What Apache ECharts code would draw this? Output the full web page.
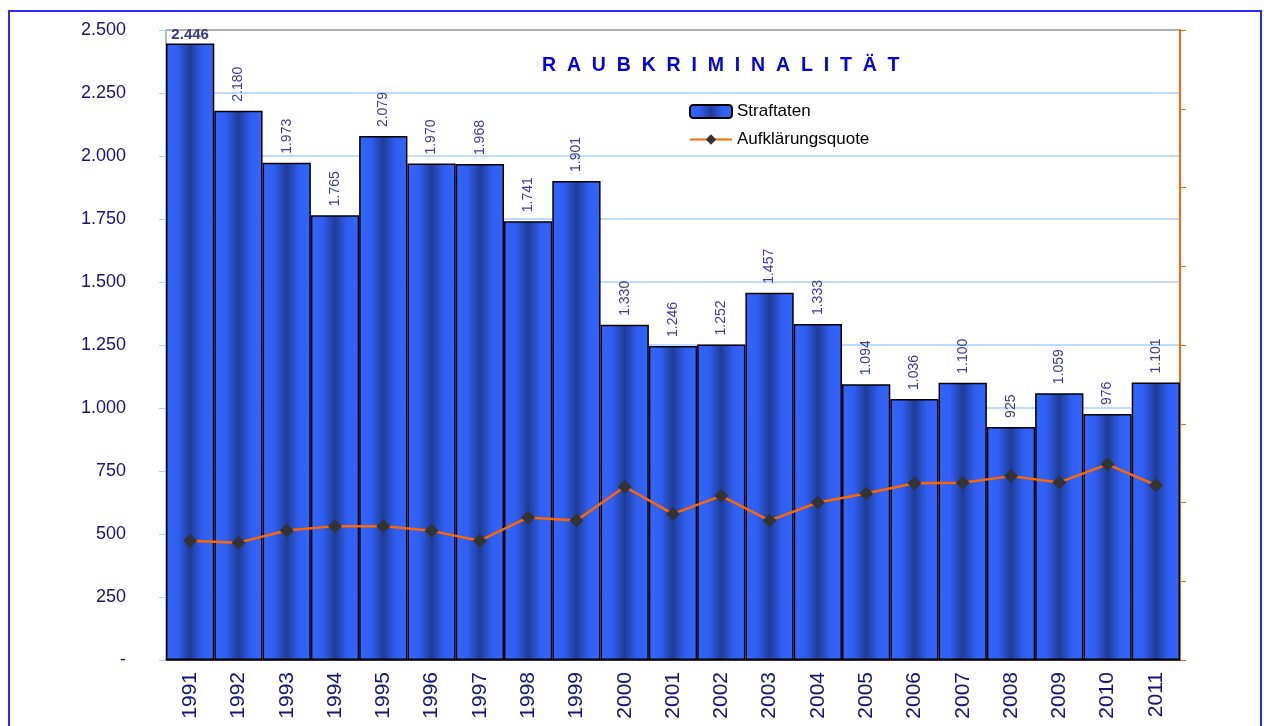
<!DOCTYPE html>
<html>
<head>
<meta charset="utf-8">
<script src="https://cdn.jsdelivr.net/npm/echarts@6/dist/echarts.min.js"></script>
<style>
  html, body { margin: 0; padding: 0; background: #fff; }
  #chart { width: 1264px; height: 726px; }
</style>
</head>
<body>
<div id="chart"></div>
<script>
const years = ['1991', '1992', '1993', '1994', '1995', '1996', '1997', '1998', '1999', '2000',
  '2001', '2002', '2003', '2004', '2005', '2006', '2007', '2008', '2009', '2010', '2011']
const straftaten = [2446, 2180, 1973, 1765, 2079, 1970, 1968, 1741, 1901, 1330,
  1246, 1252, 1457, 1333, 1094, 1036, 1100, 925, 1059, 976, 1101]
// Aufklärungsquote in %, read from the (unlabelled) right axis
const quote = [30.3, 29.8, 32.9, 34.0, 34.0, 32.8, 30.3, 36.2, 35.4, 44.0,
  37.1, 41.7, 35.4, 40.0, 42.3, 44.9, 45.0, 46.7, 45.1, 49.7, 44.4]

const fmt = v => v === 0 ? '-' : String(v).replace(/\B(?=(\d{3})+(?!\d))/g, '.')

const barFill = new echarts.graphic.LinearGradient(0, 0, 1, 0, [
  { offset: 0, color: '#3366ff' },
  { offset: 0.25, color: '#2f5ef0' },
  { offset: 0.5, color: '#1f3c96' },
  { offset: 0.75, color: '#2f5ef0' },
  { offset: 1, color: '#3366ff' }
])

const chart = echarts.init(document.getElementById('chart'))

const option = {
  textStyle: { fontFamily: 'Liberation Sans, Arial, sans-serif' },
  animation: false,
  title: {
    text: 'R  A  U  B  K  R  I  M  I  N  A  L  I  T  Ä  T',
    left: 537,
    top: 51,
    textStyle: { color: '#0000ee', fontSize: 19.5, fontWeight: 'bold' }
  },
  legend: {
    orient: 'vertical',
    left: 684,
    top: 98,
    itemWidth: 42,
    itemHeight: 13,
    itemGap: 11,
    textStyle: { color: '#000', fontSize: 17 },
    data: ['Straftaten', 'Aufklärungsquote']
  },
  graphic: [{
    type: 'rect',
    shape: { x: 9, y: 11, width: 1252, height: 800 },
    style: { fill: 'none', stroke: '#2a2aff', lineWidth: 2 },
    silent: true
  }],
  grid: { left: 166, right: 84, top: 30, bottom: 66 },
  xAxis: {
    type: 'category',
    data: years,
    axisLine: { lineStyle: { color: '#000', width: 1.5 } },
    axisTick: { alignWithLabel: false, length: 6, lineStyle: { color: '#555' } },
    axisLabel: { rotate: 90, margin: 12, color: '#14147a', fontSize: 21 }
  },
  yAxis: [{
    type: 'value',
    min: 0,
    max: 2500,
    interval: 250,
    axisLine: { show: true, lineStyle: { color: '#8fa6c4', width: 1.5 } },
    axisTick: { show: true, length: 7, lineStyle: { color: '#a8d0ff' } },
    axisLabel: { color: '#14147a', fontSize: 18, margin: 40, formatter: fmt },
    splitLine: {
      lineStyle: {
        color: ['#a8d0ff', '#a8d0ff', '#a8d0ff', '#a8d0ff', '#a8d0ff', '#a8d0ff',
          '#a8d0ff', '#a8d0ff', '#a8d0ff', '#a8d0ff', '#999999'],
        width: 1.5
      }
    }
  }, {
    type: 'value',
    min: 0,
    max: 160,
    interval: 20,
    position: 'right',
    axisLine: { show: true, lineStyle: { color: '#ff6600', width: 2 } },
    axisTick: { show: true, length: 6, lineStyle: { color: '#ff6600' } },
    axisLabel: { show: false },
    splitLine: { show: false }
  }],
  series: [{
    name: 'Straftaten',
    type: 'bar',
    barCategoryGap: 0,
    data: straftaten.map((v, i) => i === 0 ? {
      value: v,
      label: { rotate: 0, align: 'center', verticalAlign: 'bottom', distance: 1, fontWeight: 'bold', fontSize: 15, color: '#3a3a8a' }
    } : v),
    itemStyle: { color: barFill, borderColor: '#000', borderWidth: 1.5 },
    label: {
      show: true,
      position: 'top',
      rotate: 90,
      align: 'left',
      verticalAlign: 'middle',
      distance: 9,
      color: '#3c3ca0',
      fontSize: 14,
      formatter: p => fmt(p.value)
    },
    z: 2
  }, {
    name: 'Aufklärungsquote',
    type: 'line',
    yAxisIndex: 1,
    data: quote,
    symbol: 'diamond',
    symbolSize: 14,
    itemStyle: { color: '#333333' },
    lineStyle: { color: '#ff6600', width: 2.5 },
    z: 5
  }]
}

chart.setOption(option)
</script>
</body>
</html>
